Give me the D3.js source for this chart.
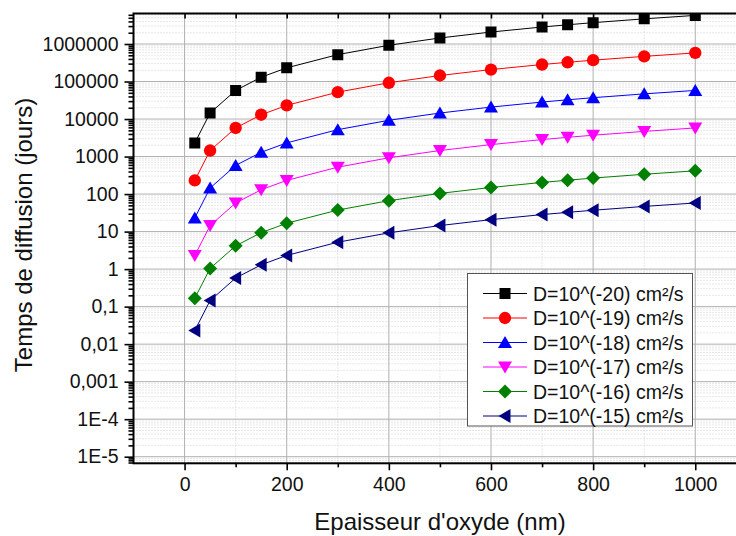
<!DOCTYPE html>
<html><head><meta charset="utf-8">
<script src="https://cdn.jsdelivr.net/npm/d3@7"></script>
<style>body{margin:0;background:#fff}svg{display:block;font-family:"Liberation Sans",Arial,sans-serif}</style>
</head><body><svg id="c" width="736" height="536"></svg>
<script>
const thickness = [20,50,100,150,200,300,400,500,600,700,750,800,900,1000];
const d20 = [2315,14468,57870,130208,231481,520833,925926,1446759,2083333,2835648,3255208,3703704,4687500,5787037];
const d19 = [231.5,1446.8,5787,13021,23148,52083,92593,144676,208333,283565,325521,370370,468750,578704];
const d18 = [23.15,144.68,578.7,1302.1,2314.8,5208.3,9259.3,14467.6,20833.3,28356.5,32552.1,37037,46875,57870];
const d17 = [2.315,14.468,57.87,130.21,231.48,520.83,925.93,1446.76,2083.33,2835.65,3255.21,3703.7,4687.5,5787.04];
const d16 = [0.1667,1.042,4.167,9.375,16.67,37.5,66.67,104.2,150,204.2,234.4,266.7,337.5,416.7];
const d15 = [0.02315,0.1447,0.5787,1.302,2.315,5.208,9.259,14.47,20.83,28.36,32.55,37.04,46.88,57.87];
const seriesNames = ["D=10^(-20) cm²/s","D=10^(-19) cm²/s","D=10^(-18) cm²/s","D=10^(-17) cm²/s","D=10^(-16) cm²/s","D=10^(-15) cm²/s"];
const seriesValues = [d20,d19,d18,d17,d16,d15];
const seriesColors = ["#000000","#ff0000","#0000ff","#ff00ff","#008000","#000080"];
const seriesMarkers = ["square","circle","triangleUp","triangleDown","diamond","triangleLeft"];
const xTicks = [0,200,400,600,800,1000];
const xMinorTicks = [100,300,500,700,900];
const yTicks = [1e6,1e5,1e4,1e3,100,10,1,0.1,0.01,0.001,1e-4,1e-5];
const yTickLabels = ["1000000","100000","10000","1000","100","10","1","0,1","0,01","0,001","1E-4","1E-5"];
const xTitle = "Epaisseur d'oxyde (nm)";
const yTitle = "Temps de diffusion (jours)";

const svg = d3.select("#c");
const L = 133.5, T = 13.5, B = 463.3;
const x = d3.scaleLinear().domain([-100, 1100]).range([L, L + 1200 * 0.5107]);
const y = d3.scaleLog().domain([Math.pow(10, -5.176), Math.pow(10, 6.813)]).range([B, T]);
const R = x(1100);

const yMinor = [];
for (let e = -6; e <= 6; e++) for (let k = 2; k <= 9; k++) {
  const v = k * Math.pow(10, e);
  if (v >= y.domain()[0] && v <= y.domain()[1]) yMinor.push(v);
}

const defs = svg.append("defs");
defs.append("clipPath").attr("id", "clip").append("rect").attr("x", L).attr("y", T).attr("width", R - L).attr("height", B - T);

const grid = svg.append("g");
grid.selectAll(".mgy").data(yMinor).join("line")
  .attr("x1", L).attr("x2", R).attr("y1", d => y(d)).attr("y2", d => y(d))
  .attr("stroke", "#d0d0d0").attr("stroke-width", 1).attr("stroke-dasharray", "1,2");
grid.selectAll(".mgx").data(xMinorTicks).join("line")
  .attr("y1", T).attr("y2", B).attr("x1", d => x(d)).attr("x2", d => x(d))
  .attr("stroke", "#d0d0d0").attr("stroke-width", 1).attr("stroke-dasharray", "1,2");
grid.selectAll(".gy").data(yTicks).join("line")
  .attr("x1", L).attr("x2", R).attr("y1", d => y(d)).attr("y2", d => y(d))
  .attr("stroke", "#b0b0b0").attr("stroke-width", 1);
grid.selectAll(".gx").data(xTicks).join("line")
  .attr("y1", T).attr("y2", B).attr("x1", d => x(d)).attr("x2", d => x(d))
  .attr("stroke", "#b0b0b0").attr("stroke-width", 1);

function markerPath(type) {
  switch (type) {
    case "square": return "M-5.5,-5.5H5.5V5.5H-5.5Z";
    case "circle": return d3.symbol(d3.symbolCircle, 120)();
    case "triangleUp": return "M0,-6.5L7,5.5L-7,5.5Z";
    case "triangleDown": return "M0,6.5L7,-5.5L-7,-5.5Z";
    case "diamond": return "M0,-7L7,0L0,7L-7,0Z";
    case "triangleLeft": return "M-6.5,0L5.5,-7L5.5,7Z";
  }
}

const plot = svg.append("g").attr("clip-path", "url(#clip)");
const line = d3.line().x(d => x(d[0])).y(d => y(d[1]));
seriesValues.forEach((vals, i) => {
  const pts = thickness.map((t, j) => [t, vals[j]]);
  plot.append("path").attr("d", line(pts)).attr("fill", "none")
    .attr("stroke", seriesColors[i]).attr("stroke-width", 1);
  plot.selectAll(null).data(pts).join("path")
    .attr("transform", d => `translate(${x(d[0])},${y(d[1])})`)
    .attr("d", markerPath(seriesMarkers[i])).attr("fill", seriesColors[i]);
});

const axisFont = "19.5px";
svg.append("g").attr("transform", `translate(${L},0)`)
  .call(d3.axisLeft(y).tickValues(yTicks).tickSize(9).tickPadding(6).tickFormat((d, i) => yTickLabels[i]));
svg.append("g").attr("transform", `translate(${L},0)`)
  .call(d3.axisLeft(y).tickValues(yMinor).tickSize(5).tickFormat(""));
svg.append("g").attr("transform", `translate(0,${B})`)
  .call(d3.axisBottom(x).tickValues(xTicks).tickSize(7).tickPadding(7).tickFormat(d3.format("d")));
svg.append("g").attr("transform", `translate(0,${B})`)
  .call(d3.axisBottom(x).tickValues(xMinorTicks).tickSize(4).tickFormat(""));
svg.append("g").attr("transform", `translate(0,${T})`)
  .call(d3.axisBottom(x).tickValues(xTicks.concat(xMinorTicks)).tickSize(5).tickFormat(""));
svg.selectAll(".domain").remove();
svg.selectAll(".tick line").attr("stroke", "#000").attr("stroke-width", 1.6);
svg.selectAll(".tick text").attr("font-size", axisFont).attr("fill", "#111")
  .attr("font-family", '"Liberation Sans",Arial,sans-serif');

svg.append("rect").attr("x", L).attr("y", T).attr("width", R - L).attr("height", B - T)
  .attr("fill", "none").attr("stroke", "#000").attr("stroke-width", 2);

svg.append("text").attr("x", (313 + 567) / 2).attr("y", 530).attr("text-anchor", "middle")
  .attr("font-size", "24px").attr("fill", "#111").text(xTitle);
svg.append("text").attr("transform", "translate(32,235) rotate(-90)").attr("text-anchor", "middle")
  .attr("font-size", "24px").attr("fill", "#111").text(yTitle);

const lg = svg.append("g");
lg.append("rect").attr("x", 467.5).attr("y", 273.5).attr("width", 225).attr("height", 152.5)
  .attr("fill", "#fff").attr("stroke", "#555").attr("stroke-width", 1);
seriesNames.forEach((name, i) => {
  const ry = 293.5 + i * 24.5;
  lg.append("line").attr("x1", 483).attr("x2", 527).attr("y1", ry).attr("y2", ry)
    .attr("stroke", seriesColors[i]).attr("stroke-width", 1);
  lg.append("path").attr("transform", `translate(505,${ry})`).attr("d", markerPath(seriesMarkers[i]))
    .attr("fill", seriesColors[i]);
  lg.append("text").attr("x", 533).attr("y", ry + 7).attr("font-size", "19.5px").attr("fill", "#111").text(name);
});
</script></body></html>
